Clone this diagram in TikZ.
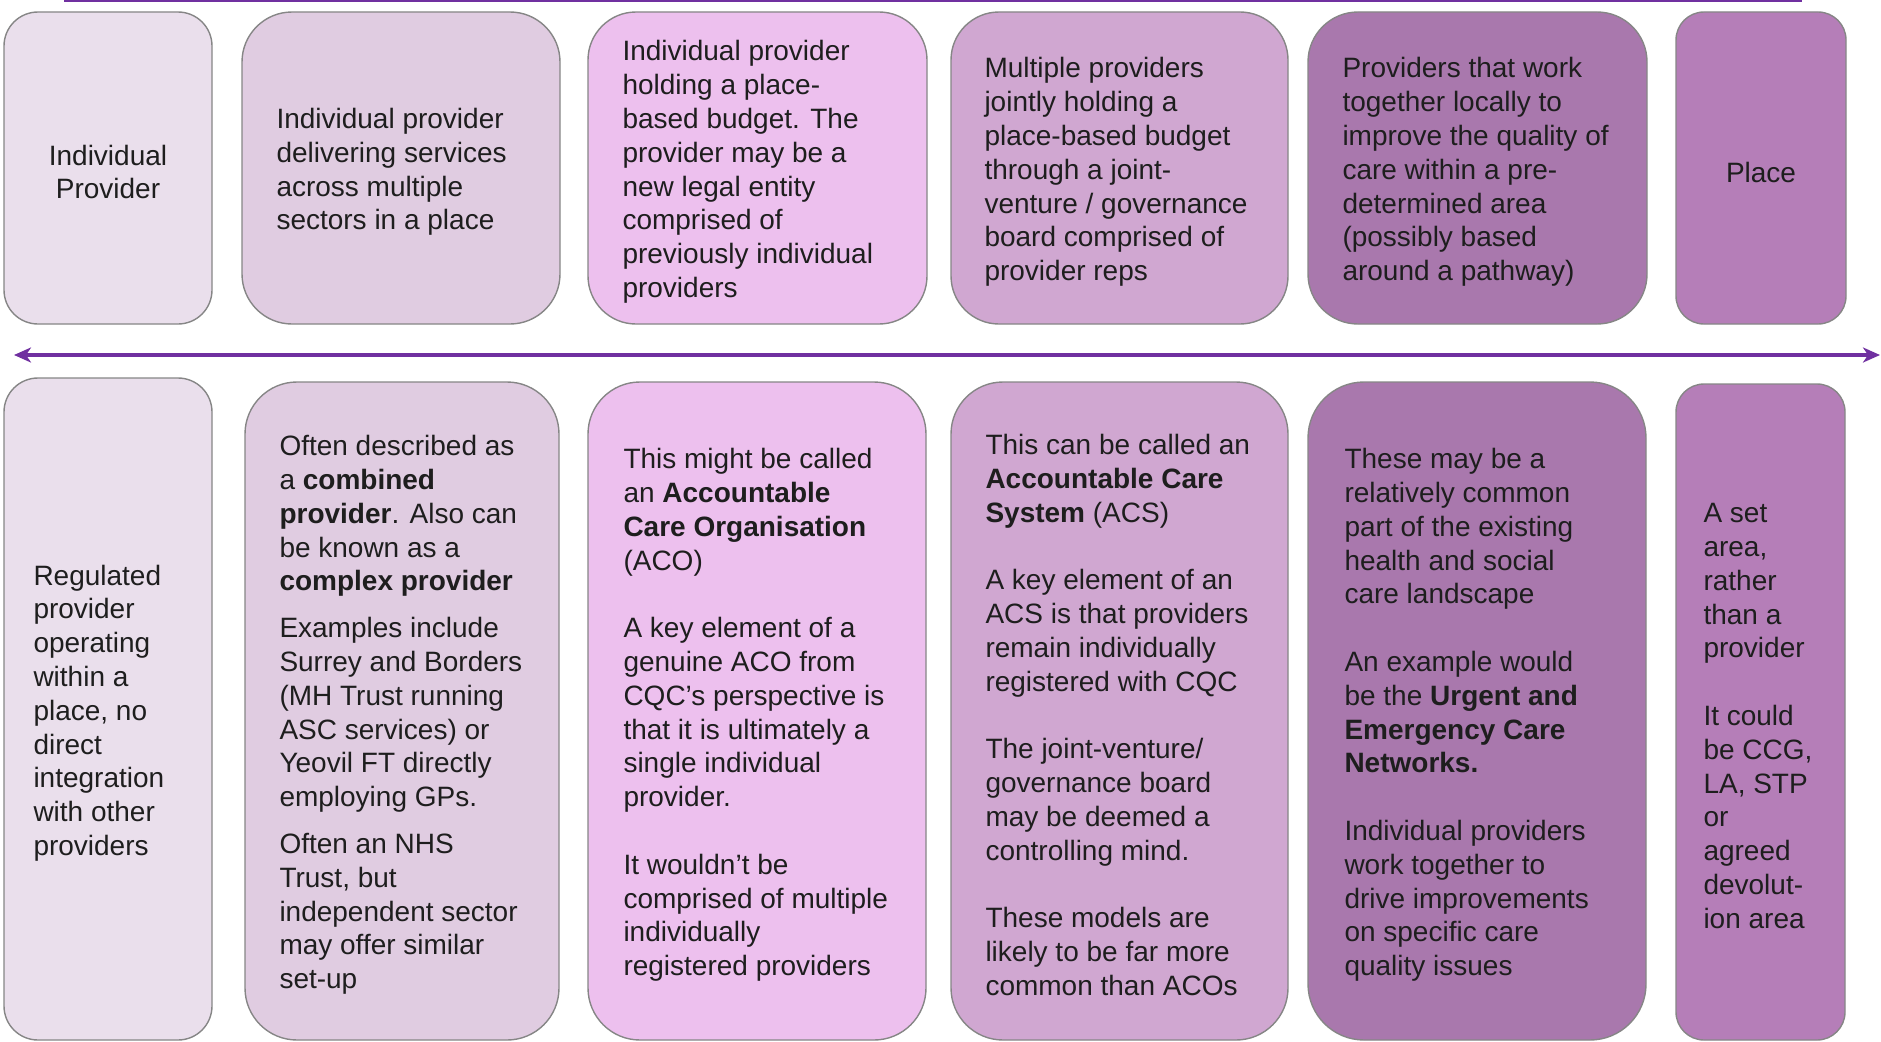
\documentclass[tikz,border=0pt]{standalone}
\usepackage{fontspec}
\setmainfont{Liberation Sans}
\usetikzlibrary{positioning,arrows.meta}
\definecolor{stageA}{HTML}{EADFEC}
\definecolor{stageB}{HTML}{E0CCE1}
\definecolor{stageC}{HTML}{EDC0EE}
\definecolor{stageD}{HTML}{D0A7D1}
\definecolor{stageE}{HTML}{A978AD}
\definecolor{stageF}{HTML}{B57EB8}
\definecolor{edgegray}{HTML}{868686}
\definecolor{inkgray}{HTML}{1E1E1E}
\definecolor{rulepurple}{HTML}{7030A0}
\begin{document}
\begin{tikzpicture}[x=1pt,y=-1pt,
    box/.style={draw=edgegray, line width=1.4pt, inner sep=0pt},
    txt/.style={inner sep=0pt, align=left, text=inkgray, yshift=-4pt, font=\fontsize{28}{33.8}\selectfont},
    topline/.style={draw=rulepurple, line width=3pt},
    spanline/.style={draw=rulepurple, line width=4pt,
        {Stealth[length=17pt,width=15pt,inset=5pt]}-{Stealth[length=17pt,width=15pt,inset=5pt]}}]
    \useasboundingbox (0,0) rectangle (1881,1041);
    % rule along the top edge
    \coordinate (ruleL) at (64,1);
    \coordinate (ruleR) at (1802,1);
    \draw[topline] (ruleL) -- (ruleR);
    % top row
    \node[box, fill=stageA, minimum width=208pt, minimum height=312pt, rounded corners=34pt] (top1) at (108,168) {};
    \node[box, fill=stageB, minimum width=318pt, minimum height=312pt, rounded corners=50pt] (top2) at (401,168) {};
    \node[box, fill=stageC, minimum width=339pt, minimum height=312pt, rounded corners=48pt] (top3) at (757.5,168) {};
    \node[box, fill=stageD, minimum width=337pt, minimum height=312pt, rounded corners=48pt] (top4) at (1119.5,168) {};
    \node[box, fill=stageE, minimum width=339pt, minimum height=312pt, rounded corners=50pt] (top5) at (1477.5,168) {};
    \node[box, fill=stageF, minimum width=170pt, minimum height=312pt, rounded corners=28pt] (top6) at (1761,168) {};
    \node[txt, align=center] (top1txt) at (top1) {Individual\\Provider};
    \node[txt, right=35pt of top2.west] (top2txt) {Individual provider\\delivering services\\across multiple\\sectors in a place};
    \node[txt, right=35pt of top3.west] (top3txt) {Individual provider\\holding a place-\\based budget. The\\provider may be a\\new legal entity\\comprised of\\previously individual\\providers};
    \node[txt, right=34pt of top4.west] (top4txt) {Multiple providers\\jointly holding a\\place-based budget\\through a joint-\\venture / governance\\board comprised of\\provider reps};
    \node[txt, right=35pt of top5.west] (top5txt) {Providers that work\\together locally to\\improve the quality of\\care within a pre-\\determined area\\(possibly based\\around a pathway)};
    \node[txt, align=center] (top6txt) at (top6) {Place};
    % double arrow between the rows
    \coordinate (spanL) at (14,355);
    \coordinate (spanR) at (1880,355);
    \draw[spanline] (spanL) -- (spanR);
    % bottom row
    \node[box, fill=stageA, minimum width=208pt, minimum height=662pt, rounded corners=34pt] (bot1) at (108,709) {};
    \node[box, fill=stageB, minimum width=314pt, minimum height=658pt, rounded corners=52pt] (bot2) at (402,711) {};
    \node[box, fill=stageC, minimum width=338pt, minimum height=658pt, rounded corners=52pt] (bot3) at (757,711) {};
    \node[box, fill=stageD, minimum width=337pt, minimum height=658pt, rounded corners=52pt] (bot4) at (1119.5,711) {};
    \node[box, fill=stageE, minimum width=338pt, minimum height=658pt, rounded corners=56pt] (bot5) at (1477,711) {};
    \node[box, fill=stageF, minimum width=169pt, minimum height=656pt, rounded corners=28pt] (bot6) at (1760.5,712) {};
    \node[txt, right=30pt of bot1.west] (bot1txt) {Regulated\\provider\\operating\\within a\\place, no\\direct\\integration\\with other\\providers};
    \node[txt, right=35pt of bot2.west] (bot2txt) {Often described as\\a \textbf{combined}\\\textbf{provider}. Also can\\be known as a\\\textbf{complex provider}\\[13pt]Examples include\\Surrey and Borders\\(MH Trust running\\ASC services) or\\Yeovil FT directly\\employing GPs.\\[13pt]Often an NHS\\Trust, but\\independent sector\\may offer similar\\set-up};
    \node[txt, right=36pt of bot3.west] (bot3txt) {This might be called\\an \textbf{Accountable}\\\textbf{Care Organisation}\\(ACO)\\[33.8pt]A key element of a\\genuine ACO from\\CQC’s perspective is\\that it is ultimately a\\single individual\\provider.\\[33.8pt]It wouldn’t be\\comprised of multiple\\individually\\registered providers};
    \node[txt, right=35pt of bot4.west] (bot4txt) {This can be called an\\\textbf{Accountable Care}\\\textbf{System} (ACS)\\[33.8pt]A key element of an\\ACS is that providers\\remain individually\\registered with CQC\\[33.8pt]The joint-venture/\\governance board\\may be deemed a\\controlling mind.\\[33.8pt]These models are\\likely to be far more\\common than ACOs};
    \node[txt, right=37pt of bot5.west] (bot5txt) {These may be a\\relatively common\\part of the existing\\health and social\\care landscape\\[33.8pt]An example would\\be the \textbf{Urgent and}\\\textbf{Emergency Care}\\\textbf{Networks.}\\[33.8pt]Individual providers\\work together to\\drive improvements\\on specific care\\quality issues};
    \node[txt, right=28pt of bot6.west] (bot6txt) {A set\\area,\\rather\\than a\\provider\\[33.8pt]It could\\be CCG,\\LA, STP\\or\\agreed\\devolut-\\ion area};
\end{tikzpicture}
\end{document}
